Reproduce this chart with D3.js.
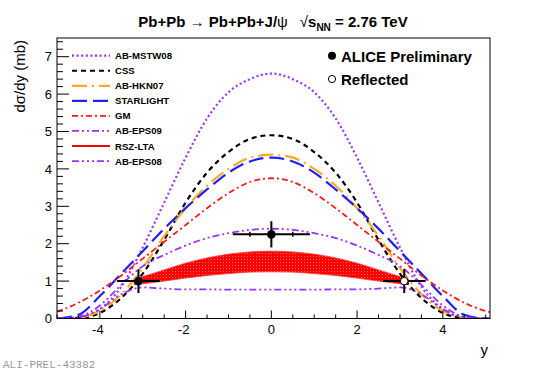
<!DOCTYPE html>
<html>
<head>
<meta charset="utf-8">
<script src="https://cdn.jsdelivr.net/npm/d3@7"></script>
<style>
  body { margin: 0; background: #fff; }
  svg { display: block; font-family: "Liberation Sans", Arial, sans-serif; }
</style>
</head>
<body>
<div id="chart"></div>
<script>
// --- data ---
const rapidity = [-5, -4.5, -4, -3.5, -3, -2.5, -2, -1.5, -1, -0.5, 0, 0.5, 1, 1.5, 2, 2.5, 3, 3.5, 4, 4.5, 5, 5.1];

const abMstw08  = [0, 0.02, 0.25, 0.85, 1.9, 3.1, 4.3, 5.35, 6.05, 6.4, 6.55, 6.4, 6.05, 5.35, 4.3, 3.1, 1.9, 0.85, 0.25, 0.02, 0, 0];
const css       = [0, 0.01, 0.15, 0.55, 1.2, 2.1, 3.1, 3.9, 4.45, 4.8, 4.9, 4.8, 4.45, 3.9, 3.1, 2.1, 1.2, 0.55, 0.15, 0.01, 0, 0];
const abHkn07   = [0, 0.02, 0.2, 0.65, 1.35, 2.2, 2.95, 3.55, 4.0, 4.3, 4.38, 4.3, 4.0, 3.55, 2.95, 2.2, 1.35, 0.65, 0.2, 0.02, 0, 0];
const starlight = [0, 0.1, 0.6, 1.2, 1.8, 2.4, 2.95, 3.45, 3.9, 4.2, 4.3, 4.2, 3.9, 3.45, 2.95, 2.4, 1.8, 1.2, 0.6, 0.1, 0, 0];
const gm        = [0.18, 0.42, 0.75, 1.15, 1.6, 2.05, 2.5, 2.95, 3.35, 3.65, 3.75, 3.65, 3.35, 2.95, 2.5, 2.05, 1.6, 1.15, 0.75, 0.42, 0.2, 0.17];
const abEps09   = [0, 0.05, 0.35, 0.9, 1.4, 1.7, 1.95, 2.15, 2.28, 2.37, 2.4, 2.37, 2.28, 2.15, 1.95, 1.7, 1.4, 0.9, 0.35, 0.05, 0, 0];
const abEps08   = [0, 0.03, 0.25, 0.65, 0.83, 0.8, 0.78, 0.78, 0.77, 0.77, 0.77, 0.77, 0.77, 0.78, 0.78, 0.8, 0.83, 0.65, 0.25, 0.03, 0, 0];

// RSZ-LTA band
const bandRapidity = [-3.2, -3, -2.5, -2, -1.5, -1, -0.5, 0, 0.5, 1, 1.5, 2, 2.5, 3, 3.2];
const bandHigh     = [1.05, 1.12, 1.3, 1.48, 1.62, 1.72, 1.78, 1.8, 1.78, 1.72, 1.62, 1.48, 1.3, 1.12, 1.05];
const bandLow      = [0.9, 0.93, 1.0, 1.08, 1.15, 1.2, 1.24, 1.25, 1.24, 1.2, 1.15, 1.08, 1.0, 0.93, 0.9];

// ALICE points
const pointY     = [-3.1, 0, 3.1];
const pointVal   = [1.0, 2.25, 1.0];
const pointXErr  = [0.5, 0.9, 0.5];
const pointYErr  = [0.32, 0.35, 0.32];
const pointMark  = [0, 0.5, 0];      // small marks on the horizontal bar
const pointOpen  = [false, false, true];

const xTicks = [-4, -2, 0, 2, 4];
const yTicks = [0, 1, 2, 3, 4, 5, 6, 7];

const models = [
  { name: "AB-MSTW08", values: abMstw08,  color: "#9b30ff", dash: "2,2.6",               width: 2.2 },
  { name: "CSS",       values: css,       color: "#000000", dash: "5,4",                 width: 2.2 },
  { name: "AB-HKN07",  values: abHkn07,   color: "#ffaa22", dash: "15,5,2,5",            width: 2.2 },
  { name: "STARLIGHT", values: starlight, color: "#1f1fff", dash: "15,6",                width: 2.2 },
  { name: "GM",        values: gm,        color: "#ff1a1a", dash: "6,3,2,3",             width: 1.8 },
  { name: "AB-EPS09",  values: abEps09,   color: "#9b30ff", dash: "7,3,2,3,2,3",         width: 1.8 },
  { name: "RSZ-LTA",   values: null,      color: "#ff0000", dash: null,                  width: 2 },
  { name: "AB-EPS08",  values: abEps08,   color: "#9b30ff", dash: "7,3,2,3,2,3,2,3",     width: 1.8 }
];

// --- layout ---
const width = 545, height = 371;
const marginLeft = 57, marginRight = 55, marginTop = 38, marginBottom = 52.5;

const x = d3.scaleLinear().domain([-5, 5.1]).range([marginLeft, width - marginRight]);
const y = d3.scaleLinear().domain([0, 7.5]).range([height - marginBottom, marginTop]);

const svg = d3.select("#chart").append("svg")
    .attr("width", width)
    .attr("height", height)
    .attr("viewBox", [0, 0, width, height]);

const defs = svg.append("defs");
defs.append("clipPath").attr("id", "frame-clip")
  .append("rect")
    .attr("x", marginLeft).attr("y", marginTop)
    .attr("width", width - marginLeft - marginRight)
    .attr("height", height - marginTop - marginBottom);

const pat = defs.append("pattern").attr("id", "band-fill")
    .attr("patternUnits", "userSpaceOnUse").attr("width", 3).attr("height", 3);
pat.append("rect").attr("width", 3).attr("height", 3).attr("fill", "#ff0000");
pat.append("rect").attr("x", 1).attr("y", 1).attr("width", 1).attr("height", 1).attr("fill", "#ff6a6a");

const plot = svg.append("g").attr("clip-path", "url(#frame-clip)");

// band
const area = d3.area()
    .x((d, i) => x(bandRapidity[i]))
    .y0((d, i) => y(bandLow[i]))
    .y1((d, i) => y(bandHigh[i]))
    .curve(d3.curveMonotoneX);
plot.append("path")
    .datum(bandRapidity)
    .attr("d", area)
    .attr("fill", "url(#band-fill)")
    .attr("stroke", "#ff3030")
    .attr("stroke-width", 0.8);

// model curves
const line = d3.line()
    .x((d, i) => x(rapidity[i]))
    .y(d => y(d))
    .curve(d3.curveMonotoneX);

models.filter(m => m.values).forEach(m => {
  plot.append("path")
      .datum(m.values)
      .attr("d", line)
      .attr("fill", "none")
      .attr("stroke", m.color)
      .attr("stroke-width", m.width)
      .attr("stroke-dasharray", m.dash);
});

// --- axes (ROOT style, ticks inward) ---
const axisG = svg.append("g").attr("stroke", "#000");
const x0 = marginLeft, x1 = width - marginRight, y0 = height - marginBottom, y1 = marginTop;

// frame
svg.append("rect")
    .attr("x", x0).attr("y", y1)
    .attr("width", x1 - x0).attr("height", y0 - y1)
    .attr("fill", "none").attr("stroke", "#000").attr("stroke-width", 1);

// y ticks
d3.range(0, 7.41, 0.2).forEach(v => {
  const major = Math.abs(v - Math.round(v)) < 1e-6;
  axisG.append("line")
      .attr("x1", x0).attr("x2", x0 + (major ? 12 : 6))
      .attr("y1", y(v)).attr("y2", y(v))
      .attr("stroke-width", 1);
});
svg.append("g").selectAll("text").data(yTicks).join("text")
    .attr("x", x0 - 5).attr("y", d => y(d) + 4.6)
    .attr("text-anchor", "end")
    .attr("font-size", 13)
    .text(d => d);

// x ticks
d3.range(-5, 5.01, 0.5).forEach(v => {
  const major = Math.abs(v / 2 - Math.round(v / 2)) < 1e-6;
  axisG.append("line")
      .attr("x1", x(v)).attr("x2", x(v))
      .attr("y1", y0).attr("y2", y0 - (major ? 8 : 4))
      .attr("stroke-width", 1);
});
svg.append("g").selectAll("text").data(xTicks).join("text")
    .attr("x", d => x(d) - (d < 0 ? 2 : 0)).attr("y", y0 + 15)
    .attr("text-anchor", "middle")
    .attr("font-size", 13)
    .text(d => d);

// axis titles
svg.append("text")
    .attr("transform", `translate(25,40) rotate(-90)`)
    .attr("text-anchor", "end")
    .attr("font-size", 15)
    .text("dσ/dy (mb)");
svg.append("text")
    .attr("x", x1 - 2).attr("y", 355)
    .attr("text-anchor", "end")
    .attr("font-size", 15)
    .text("y");

// --- data points ---
const pts = svg.append("g").attr("stroke", "#000").attr("stroke-width", 2);
pointY.forEach((py, i) => {
  const cx = x(py), cy = y(pointVal[i]);
  pts.append("line")
      .attr("x1", x(py - pointXErr[i])).attr("x2", x(py + pointXErr[i]))
      .attr("y1", cy).attr("y2", cy);
  pts.append("line")
      .attr("x1", cx).attr("x2", cx)
      .attr("y1", y(pointVal[i] + pointYErr[i])).attr("y2", y(pointVal[i] - pointYErr[i]));
  if (pointMark[i]) {
    [-pointMark[i], pointMark[i]].forEach(dx => {
      pts.append("line")
          .attr("x1", x(py + dx)).attr("x2", x(py + dx))
          .attr("y1", cy - 2.5).attr("y2", cy + 2.5)
          .attr("stroke-width", 1.5);
    });
  }
  pts.append("circle")
      .attr("cx", cx).attr("cy", cy).attr("r", pointOpen[i] ? 3.8 : 4.3)
      .attr("fill", pointOpen[i] ? "#fff" : "#000")
      .attr("stroke-width", pointOpen[i] ? 1 : 0);
});

// --- model legend ---
const leg = svg.append("g");
models.forEach((m, i) => {
  const ly = 55.7 + i * 15.05;
  leg.append("line")
      .attr("x1", 72).attr("x2", 110)
      .attr("y1", ly).attr("y2", ly)
      .attr("stroke", m.color)
      .attr("stroke-width", m.width)
      .attr("stroke-dasharray", m.dash);
  leg.append("text")
      .attr("x", 115).attr("y", ly + 3.5)
      .attr("font-size", 9.6).attr("font-weight", "bold")
      .text(m.name);
});

// --- ALICE legend ---
const aleg = svg.append("g");
aleg.append("circle").attr("cx", 332).attr("cy", 55.7).attr("r", 4).attr("fill", "#000");
aleg.append("circle").attr("cx", 332).attr("cy", 79).attr("r", 3.6).attr("fill", "#fff").attr("stroke", "#000");
aleg.append("text").attr("x", 341).attr("y", 61.5).attr("font-size", 15).attr("font-weight", "bold").text("ALICE Preliminary");
aleg.append("text").attr("x", 341).attr("y", 85).attr("font-size", 15).attr("font-weight", "bold").text("Reflected");

// --- title ---
const title = svg.append("text")
    .attr("x", 273).attr("y", 27)
    .attr("text-anchor", "middle")
    .attr("font-size", 15)
    .attr("font-weight", "bold");
title.append("tspan").text("Pb+Pb ");
title.append("tspan").attr("font-weight", "normal").text("→");
title.append("tspan").text(" Pb+Pb+J/");
title.append("tspan").attr("font-weight", "normal").text("ψ");
title.append("tspan").attr("font-weight", "normal").attr("dx", 12).text("√");
title.append("tspan").text("s");
title.append("tspan").attr("font-size", 10).attr("dy", 4).text("NN");
title.append("tspan").attr("dy", -4).text(" = 2.76 TeV");

// --- figure id ---
svg.append("text")
    .attr("x", 3).attr("y", 368)
    .attr("font-family", "'Liberation Mono', 'DejaVu Sans Mono', monospace")
    .attr("font-size", 11)
    .attr("fill", "#9a9a9a")
    .text("ALI-PREL-43382");
</script>
</body>
</html>
